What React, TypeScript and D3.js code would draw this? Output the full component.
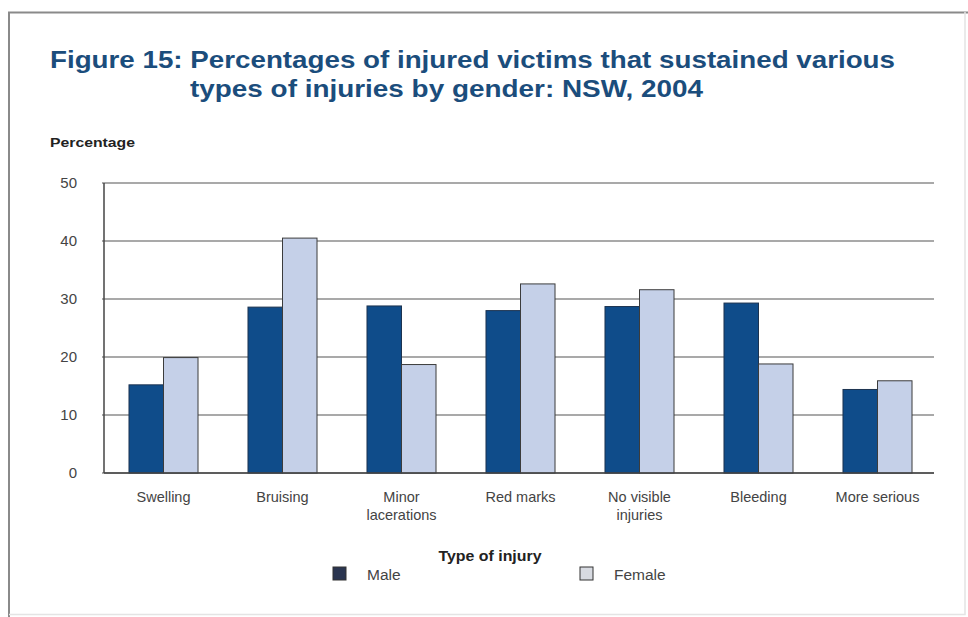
import { useEffect, useRef } from 'react';
import * as d3 from 'd3';

const categories = [
  ['Swelling'],
  ['Bruising'],
  ['Minor', 'lacerations'],
  ['Red marks'],
  ['No visible', 'injuries'],
  ['Bleeding'],
  ['More serious'],
];
const maleValues = [15.2, 28.6, 28.8, 28.0, 28.7, 29.3, 14.4];
const femaleValues = [19.9, 40.5, 18.7, 32.6, 31.6, 18.8, 15.9];
const yTicks = [0, 10, 20, 30, 40, 50];
const seriesNames = ['Male', 'Female'];

const W = 968;
const H = 617;
const MALE = '#0f4c8a';
const FEMALE = '#c5d0e8';
const FONT = 'Liberation Sans, Arial, sans-serif';

export default function App() {
  const svgRef = useRef<SVGSVGElement>(null);

  useEffect(() => {
    if (!svgRef.current) return;
    const svg = d3.select(svgRef.current);
    svg.selectAll('*').remove();

    const left = 104;
    const right = 937;
    const top = 183;
    const bottom = 473;

    // outer frame
    svg.append('rect').attr('width', W).attr('height', H).attr('fill', '#fff');
    svg.append('path')
      .attr('d', `M9,617 L9,12.5 L968,12.5`)
      .attr('fill', 'none')
      .attr('stroke', '#8a8a8a')
      .attr('stroke-width', 2);
    svg.append('path')
      .attr('d', `M9,614.5 L965,614.5 L965,12`)
      .attr('fill', 'none')
      .attr('stroke', '#e4e4e4')
      .attr('stroke-width', 1.5);

    // title
    const title = svg.append('text')
      .attr('font-family', FONT)
      .attr('font-weight', 'bold')
      .attr('font-size', 24)
      .attr('fill', '#1b4d7c');
    title.append('tspan').attr('x', 50).attr('y', 68)
      .attr('textLength', 845).attr('lengthAdjust', 'spacingAndGlyphs')
      .text('Figure 15: Percentages of injured victims that sustained various');
    title.append('tspan').attr('x', 190).attr('y', 97)
      .attr('textLength', 513).attr('lengthAdjust', 'spacingAndGlyphs')
      .text('types of injuries by gender: NSW, 2004');

    svg.append('text')
      .attr('x', 50).attr('y', 147)
      .attr('font-family', FONT)
      .attr('font-weight', 'bold')
      .attr('font-size', 13)
      .attr('fill', '#222')
      .attr('textLength', 85).attr('lengthAdjust', 'spacingAndGlyphs')
      .text('Percentage');

    const x = d3.scaleBand<number>()
      .domain(d3.range(categories.length))
      .range([left, right])
      .paddingInner(0.42)
      .paddingOuter(0.21);
    const inner = d3.scaleBand<number>()
      .domain([0, 1])
      .range([0, x.bandwidth()]);
    const y = d3.scaleLinear().domain([0, 50]).range([bottom, top]);

    // gridlines
    svg.append('g')
      .selectAll('line')
      .data(yTicks)
      .join('line')
      .attr('x1', left - 2)
      .attr('x2', right - 3)
      .attr('y1', d => y(d))
      .attr('y2', d => y(d))
      .attr('stroke', '#555')
      .attr('stroke-width', 1.2);

    svg.append('g')
      .selectAll('text')
      .data(yTicks)
      .join('text')
      .attr('x', 77)
      .attr('y', d => y(d))
      .attr('dy', '0.35em')
      .attr('text-anchor', 'end')
      .attr('font-family', FONT)
      .attr('font-size', 15)
      .attr('fill', '#444')
      .text(d => d);

    // bars
    const series = [maleValues, femaleValues];
    const fills = [MALE, FEMALE];
    series.forEach((vals, s) => {
      svg.append('g')
        .selectAll('rect')
        .data(vals)
        .join('rect')
        .attr('x', (_, i) => (x(i) ?? 0) + (inner(s) ?? 0))
        .attr('y', d => y(d))
        .attr('width', inner.bandwidth())
        .attr('height', d => bottom - y(d))
        .attr('fill', fills[s])
        .attr('stroke', s === 0 ? '#1c3350' : '#3c3c3c')
        .attr('stroke-width', 1);
    });

    // axes lines
    svg.append('line')
      .attr('x1', left).attr('x2', left)
      .attr('y1', top).attr('y2', bottom)
      .attr('stroke', '#444').attr('stroke-width', 1.5);
    svg.append('line')
      .attr('x1', left).attr('x2', right - 3)
      .attr('y1', bottom).attr('y2', bottom)
      .attr('stroke', '#444').attr('stroke-width', 1.5);

    // x labels
    const labels = svg.append('g')
      .selectAll('text')
      .data(categories)
      .join('text')
      .attr('text-anchor', 'middle')
      .attr('font-family', FONT)
      .attr('font-size', 14.5)
      .attr('fill', '#444');
    labels.selectAll('tspan')
      .data((d, i) => d.map(t => ({ t, i })))
      .join('tspan')
      .attr('x', d => (x(d.i) ?? 0) + x.bandwidth() / 2)
      .attr('y', (_, j) => 502 + j * 18)
      .text(d => d.t);

    svg.append('text')
      .attr('x', 490).attr('y', 561)
      .attr('text-anchor', 'middle')
      .attr('font-family', FONT)
      .attr('font-weight', 'bold')
      .attr('font-size', 14)
      .attr('fill', '#222')
      .attr('textLength', 103).attr('lengthAdjust', 'spacingAndGlyphs')
      .text('Type of injury');

    // legend
    const legendX = [333, 580];
    seriesNames.forEach((name, s) => {
      svg.append('rect')
        .attr('x', legendX[s]).attr('y', 567)
        .attr('width', 13).attr('height', 13)
        .attr('fill', s === 0 ? '#2a3550' : '#d8dbe2')
        .attr('stroke', '#333').attr('stroke-width', 1);
      svg.append('text')
        .attr('x', legendX[s] + 34).attr('y', 580)
        .attr('font-family', FONT)
        .attr('font-size', 15.5)
        .attr('fill', '#444')
        .text(name);
    });
  }, []);

  return (
    <div style={{ position: 'absolute', left: 0, top: 0 }}>
      <svg ref={svgRef} width={W} height={H} style={{ display: 'block' }} />
    </div>
  );
}
